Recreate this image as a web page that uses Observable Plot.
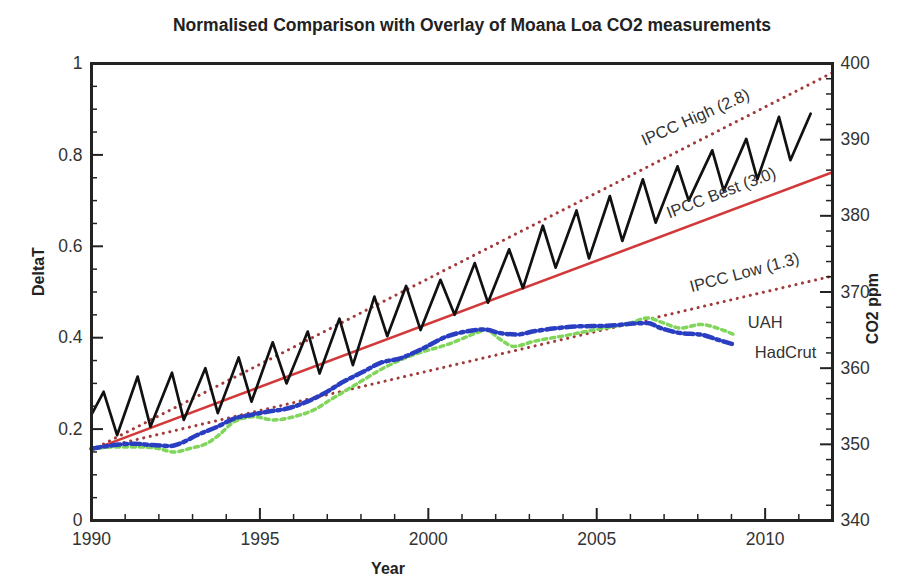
<!DOCTYPE html>
<html>
<head>
<meta charset="utf-8">
<script src="https://cdn.jsdelivr.net/npm/d3@7"></script>
<script src="https://cdn.jsdelivr.net/npm/@observablehq/plot@0.6"></script>
<style>
  html, body { margin: 0; padding: 0; background: #fff; }
  #chart svg { font-family: 'Liberation Sans', Arial, Helvetica, sans-serif; }
</style>
</head>
<body>
<div id="chart"></div>
<script>
// ---------- data ----------
const chartTitle = "Normalised Comparison with Overlay of Moana Loa CO2 measurements";

// Mauna Loa CO2 (seasonal peaks and troughs), ppm
const co2Year = [1990.0, 1990.36, 1990.76, 1991.37, 1991.75, 1992.39, 1992.74, 1993.38, 1993.75,
  1994.37, 1994.75, 1995.38, 1995.79, 1996.42, 1996.77, 1997.36, 1997.76, 1998.40, 1998.78,
  1999.34, 1999.77, 2000.36, 2000.78, 2001.38, 2001.77, 2002.40, 2002.81, 2003.40, 2003.78,
  2004.40, 2004.77, 2005.39, 2005.76, 2006.37, 2006.75, 2007.40, 2007.73, 2008.43, 2008.77,
  2009.44, 2009.77, 2010.41, 2010.75, 2011.35];
const co2Ppm = [353.9, 356.9, 351.2, 358.9, 352.3, 359.4, 353.2, 360.0, 354.1,
  361.4, 355.6, 363.4, 358.0, 364.8, 359.3, 366.5, 360.4, 369.4, 364.2,
  370.8, 365.0, 371.6, 367.0, 373.8, 368.6, 375.6, 370.5, 378.7, 373.2,
  380.7, 374.4, 382.6, 376.7, 384.8, 379.1, 386.5, 382.0, 388.6, 383.3,
  390.1, 384.8, 393.0, 387.3, 393.4];

// IPCC projections (DeltaT)
const ipccYear = [1990, 2012];
const ipccHigh = [0.154, 0.980];
const ipccBest = [0.154, 0.762];
const ipccLow  = [0.154, 0.535];

// HadCrut (DeltaT)
const hadYear = [1990.0, 1990.66, 1991.26, 1991.8, 1992.35, 1992.64, 1993.14, 1993.73, 1994.23,
  1994.72, 1995.22, 1995.81, 1996.4, 1996.9, 1997.49, 1998.08, 1998.58, 1999.17, 1999.77,
  2000.56, 2001.15, 2001.65, 2002.14, 2002.64, 2003.13, 2003.83, 2004.52, 2005.31, 2006.1,
  2006.5, 2006.9, 2007.49, 2008.08, 2008.58, 2009.07];
const hadVal = [0.157, 0.165, 0.168, 0.165, 0.163, 0.169, 0.187, 0.205, 0.223,
  0.231, 0.238, 0.245, 0.260, 0.278, 0.304, 0.326, 0.345, 0.355, 0.374,
  0.403, 0.414, 0.418, 0.410, 0.407, 0.414, 0.421, 0.425, 0.426, 0.431,
  0.432, 0.421, 0.410, 0.407, 0.396, 0.385];

// UAH (DeltaT)
const uahYear = [1990.0, 1990.76, 1991.36, 1991.95, 1992.44, 1992.94, 1993.43, 1993.83, 1994.23,
  1994.82, 1995.41, 1996.0, 1996.6, 1997.09, 1997.59, 1998.08, 1998.58, 1999.57, 2000.56,
  2001.55, 2001.7, 2002.14, 2002.54, 2003.13, 2004.02, 2005.0, 2006.0, 2006.5, 2006.99,
  2007.49, 2008.08, 2008.58, 2009.07];
const uahVal = [0.157, 0.161, 0.161, 0.158, 0.150, 0.158, 0.169, 0.190, 0.216,
  0.227, 0.220, 0.227, 0.242, 0.264, 0.286, 0.308, 0.330, 0.363, 0.385,
  0.414, 0.418, 0.396, 0.381, 0.392, 0.404, 0.418, 0.432, 0.443, 0.432,
  0.421, 0.429, 0.421, 0.407];

// axes
const xDomain = [1990, 2012];
const xTicks = [1990, 1995, 2000, 2005, 2010];
const xMinorTicks = [1991, 1992, 1993, 1994, 1996, 1997, 1998, 1999, 2001, 2002, 2003, 2004, 2006, 2007, 2008, 2009, 2011];
const yTicks = [0, 0.2, 0.4, 0.6, 0.8, 1];
const yMinorTicks = [0.05, 0.1, 0.15, 0.25, 0.3, 0.35, 0.45, 0.5, 0.55, 0.65, 0.7, 0.75, 0.85, 0.9, 0.95];
const co2Ticks = [340, 350, 360, 370, 380, 390, 400];
const co2MinorTicks = [342, 344, 346, 348, 352, 354, 356, 358, 362, 364, 366, 368, 372, 374, 376, 378, 382, 384, 386, 388, 392, 394, 396, 398];
const co2Domain = [340, 400];

// IPCC labels
const ipccLabelText = ["IPCC High (2.8)", "IPCC Best (3.0)", "IPCC Low (1.3)"];
const ipccLabelYear = [2007.93, 2008.70, 2009.39];

// ---------- build ----------
const W = 907, H = 582, ML = 91, MR = 75, MT = 63, MB = 62;
const ppmToDelta = d3.scaleLinear(co2Domain, [0, 1]);
const toRows = (xs, ys) => xs.map((x, i) => ({x, y: ys[i]}));

const co2Rows = co2Year.map((x, i) => ({x, y: ppmToDelta(co2Ppm[i])}));
const highRows = toRows(ipccYear, ipccHigh);
const bestRows = toRows(ipccYear, ipccBest);
const lowRows  = toRows(ipccYear, ipccLow);
const hadRows = toRows(hadYear, hadVal);
const uahRows = toRows(uahYear, uahVal);

const lineFns = [ipccHigh, ipccBest, ipccLow].map(v => d3.scaleLinear(ipccYear, v));
const ipccLabels = ipccLabelText.map((t, i) => ({x: ipccLabelYear[i], y: lineFns[i](ipccLabelYear[i]), t}));

const dotted = {stroke: "#a33a3a", strokeWidth: 3, strokeDasharray: "0.1 6.6", strokeLinecap: "round"};
const txt = "#333";

// inward tick marks: pixel lengths expressed in data units of each scale
const pxX = px => px * (xDomain[1] - xDomain[0]) / (W - ML - MR);
const pxY = px => px / (H - MT - MB);
const ticksBottom = (vals, len, w) => Plot.ruleX(vals, {x: d => d, y1: () => 0, y2: () => pxY(len), stroke: "#222", strokeWidth: w});
const ticksLeft = (vals, len, w) => Plot.ruleY(vals, {y: d => d, x1: () => xDomain[0], x2: () => xDomain[0] + pxX(len), stroke: "#222", strokeWidth: w});
const ticksRight = (vals, len, w) => Plot.ruleY(vals, {y: d => d, x1: () => xDomain[1] - pxX(len), x2: () => xDomain[1], stroke: "#222", strokeWidth: w});

const plot = Plot.plot({
  width: W,
  height: H,
  marginLeft: ML,
  marginRight: MR,
  marginTop: MT,
  marginBottom: MB,
  x: {domain: xDomain, axis: null},
  y: {domain: [0, 1], axis: null},
  marks: [
    // data lines
    Plot.line(highRows, {x: "x", y: "y", ...dotted}),
    Plot.line(lowRows, {x: "x", y: "y", ...dotted}),
    Plot.line(bestRows, {x: "x", y: "y", stroke: "#d23a3a", strokeWidth: 2.6}),
    Plot.line(co2Rows, {x: "x", y: "y", stroke: "#111", strokeWidth: 2.7, strokeLinejoin: "round"}),
    Plot.line(uahRows, {x: "x", y: "y", stroke: "#80d65a", strokeWidth: 3.5, strokeDasharray: "4 4", curve: "monotone-x"}),
    Plot.line(hadRows, {x: "x", y: "y", stroke: "#2a3ec2", strokeWidth: 4.5, strokeDasharray: "9 4 3 4", curve: "monotone-x"}),

    // inward ticks
    ticksBottom(xMinorTicks, 6, 1.5),
    ticksBottom(xTicks, 12, 2),
    ticksLeft(yMinorTicks, 6, 1.5),
    ticksLeft(yTicks, 12, 2),
    ticksRight(co2MinorTicks.map(ppmToDelta), 6, 1.5),
    ticksRight(co2Ticks.map(ppmToDelta), 12, 2),

    // frame
    Plot.frame({stroke: "#222", strokeWidth: 3}),

    // in-plot labels
    Plot.text([ipccLabels[0]], {x: "x", y: "y", text: "t", rotate: -24, dy: -25, fontSize: 16.5, fill: txt}),
    Plot.text([ipccLabels[1]], {x: "x", y: "y", text: "t", rotate: -21, dy: -21, fontSize: 16.5, fill: txt}),
    Plot.text([ipccLabels[2]], {x: "x", y: "y", text: "t", rotate: -15, dy: -24, fontSize: 16.5, fill: txt}),
    Plot.text([uahRows[uahRows.length - 1]], {x: "x", y: "y", text: () => "UAH", textAnchor: "start", dx: 14, dy: -12, fontSize: 16.5, fill: txt}),
    Plot.text([hadRows[hadRows.length - 1]], {x: "x", y: "y", text: () => "HadCrut", textAnchor: "start", dx: 21, dy: 8, fontSize: 16.5, fill: txt}),

    // tick labels
    Plot.axisX(xTicks, {anchor: "bottom", tickSize: 0, tickPadding: 12, fontSize: 17.5, tickFormat: d => String(d), label: null, fill: txt}),
    Plot.axisY(yTicks, {anchor: "left", tickSize: 0, tickPadding: 9, fontSize: 17.5, tickFormat: d => String(+d.toFixed(1)), label: null, fill: txt}),
    Plot.axisY(co2Ticks.map(ppmToDelta), {anchor: "right", tickSize: 0, tickPadding: 8, fontSize: 17.5, tickFormat: d => String(Math.round(ppmToDelta.invert(d))), label: null, fill: txt}),

    // axis titles and chart title
    Plot.text(["DeltaT"], {frameAnchor: "left", dx: -53, dy: 4, rotate: -90, fontSize: 16, fontWeight: "bold", fill: "#222"}),
    Plot.text(["CO2 ppm"], {frameAnchor: "right", dx: 40, dy: -19, rotate: -90, fontSize: 16, fontWeight: "bold", fill: "#222"}),
    Plot.text(["Year"], {frameAnchor: "bottom", dx: -74, dy: 53, fontSize: 16, fontWeight: "bold", fill: "#222"}),
    Plot.text([chartTitle], {frameAnchor: "top", dx: 10, dy: -45, fontSize: 17.5, fontWeight: "bold", fill: "#222"})
  ]
});

document.getElementById("chart").append(plot);
</script>
</body>
</html>
